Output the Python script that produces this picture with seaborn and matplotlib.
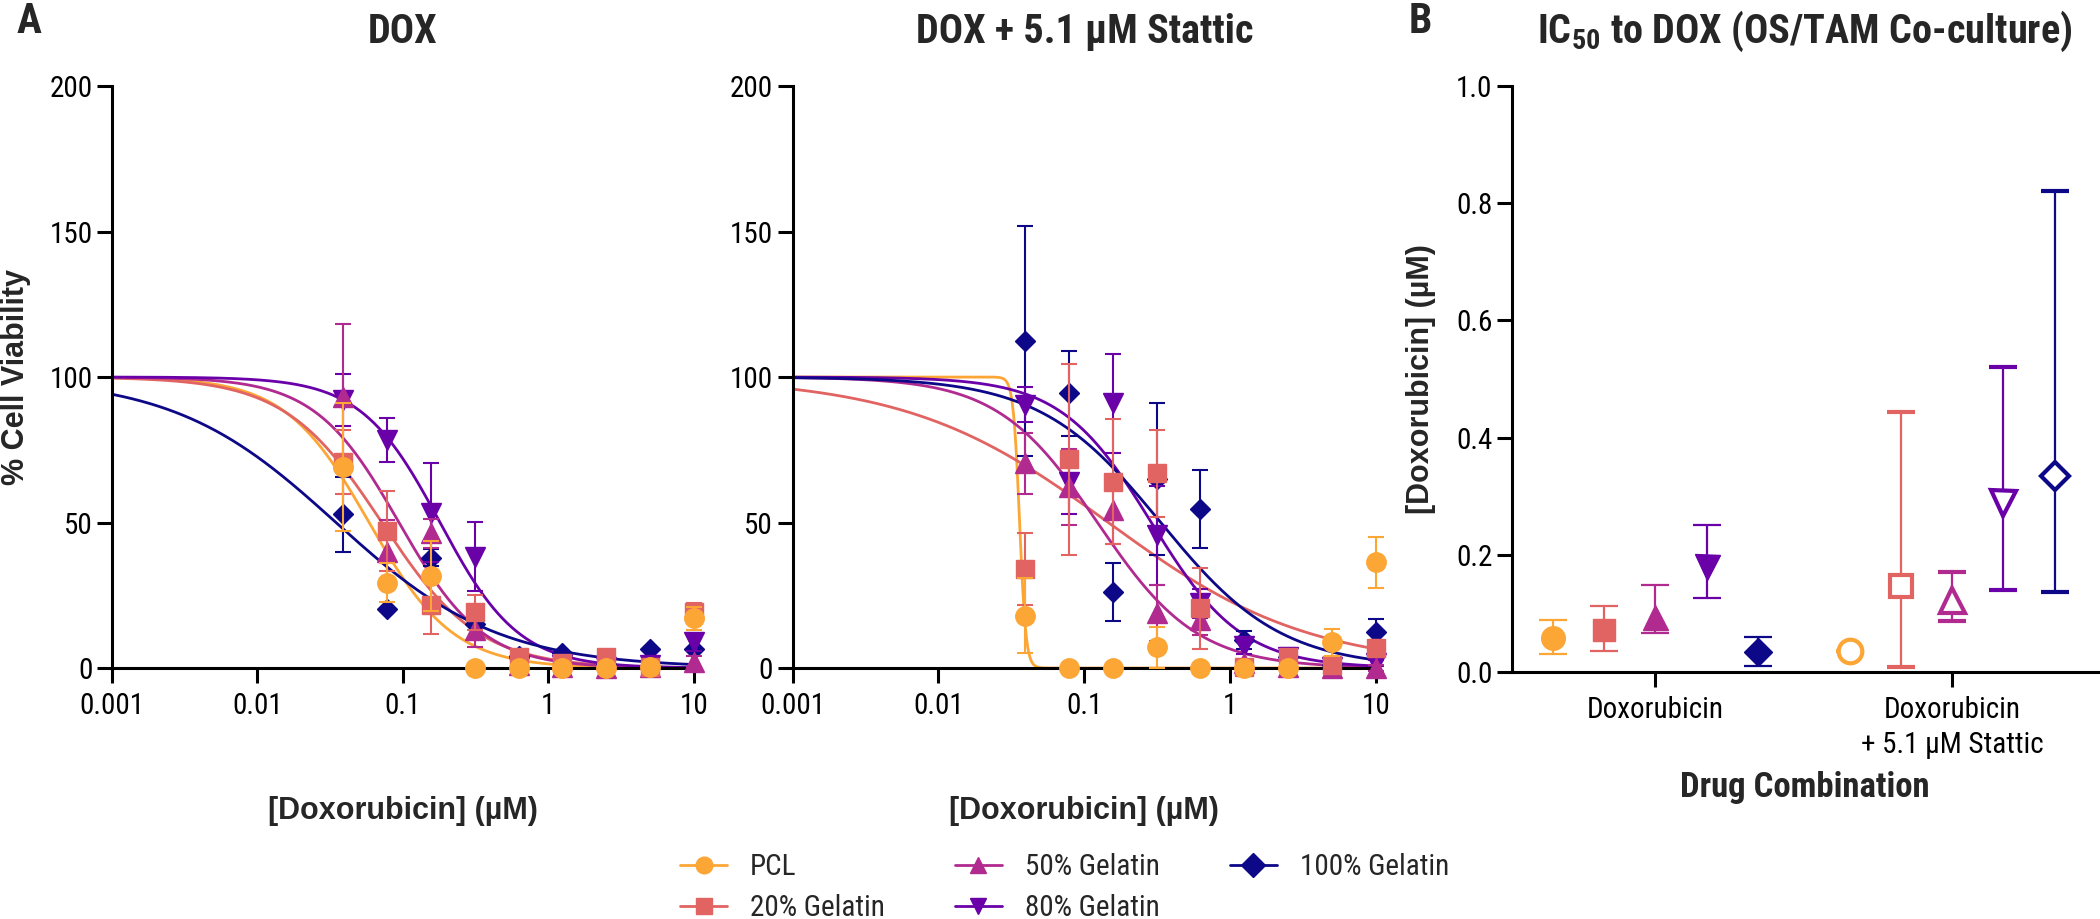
import numpy as np
import pandas as pd
import matplotlib
matplotlib.use('Agg')
import matplotlib.pyplot as plt
from matplotlib.lines import Line2D
import seaborn as sns

# ---- data ----
doses = [0.039, 0.078, 0.156, 0.3125, 0.625, 1.25, 2.5, 5, 10]
groups = ['PCL', '20% Gelatin', '50% Gelatin', '80% Gelatin', '100% Gelatin']
colors = ['#FCA636', '#E16462', '#B12A90', '#6A00A8', '#0D0887']
markers = ['o', 's', '^', 'v', 'D']

# DOX alone: mean % viability and error per group
dox_pcl = [69.2, 29.3, 31.6, 0, 0, 0, 0, 0.5, 17.1]
dox_pcl_err = [22, 6.7, 12, 0, 0, 0, 0, 1, 4]
dox_g20 = [70.9, 47.1, 21.6, 19.1, 3.9, 1.7, 3.9, 0.5, 19.4]
dox_g20_err = [11, 13.7, 10, 6, 1.5, 1, 1, 1, 3]
dox_g50 = [93.2, 40.0, 46.3, 13.1, 0.9, 0.5, 0, 0.5, 2.2]
dox_g50_err = [25, 11, 5, 6, 1, 1, 1, 1, 2]
dox_g80 = [92.0, 78.4, 53.4, 38.3, 0.5, 1, 0.5, 1, 8.8]
dox_g80_err = [9, 7.5, 17, 12, 1, 2, 1, 2, 3]
dox_g100 = [52.8, 20.3, 37.9, 15.1, 4, 5.0, 1.5, 6.5, 6.5]
dox_g100_err = [13, 0, 3, 0, 0, 0, 0, 0, 0]

# DOX + Stattic
sta_pcl = [18.0, 0, 0, 7.1, 0, 0, 0, 8.8, 36.3]
sta_pcl_err = [13, 0, 0, 7, 0, 0, 0, 4.5, 8.8]
sta_g20 = [34.0, 71.7, 64.0, 66.9, 20.5, 0.5, 3.7, 0.9, 6.8]
sta_g20_err = [12.5, 32.7, 21.5, 15, 14, 1, 2, 1, 3]
sta_g50 = [70.3, 62.1, 54.3, 18.8, 16.5, 1.7, 0.5, 0, 0]
sta_g50_err = [10.5, 13, 11.7, 9.6, 5, 1, 1, 1, 1]
sta_g80 = [90.4, 64.0, 91.0, 45.7, 22.2, 7.7, 3.7, 0.5, 1.7]
sta_g80_err = [6, 11, 17, 17, 5, 3, 2, 1, 1]
sta_g100 = [112.5, 94.4, 26.2, 65.0, 54.6, 9.6, 3.9, 1, 12.3]
sta_g100_err = [39.5, 14.6, 10, 26, 13.5, 3, 3, 1, 4.5]

# IC50 (uM) with CI, panel B
ic50_dox = [0.0586, 0.0717, 0.094, 0.18, 0.0347]
ic50_dox_low = [0.0307, 0.0364, 0.0665, 0.127, 0.0102]
ic50_dox_high = [0.0887, 0.113, 0.148, 0.25, 0.0597]
ic50_sta = [0.036, 0.146, 0.123, 0.288, 0.334]
ic50_sta_low = [0.036, 0.008, 0.087, 0.14, 0.136]
ic50_sta_high = [0.036, 0.444, 0.171, 0.52, 0.82]

# hill slopes of the fitted curves
hill_dox = [1.5, 1.3, 1.5, 1.6, 0.78]
hill_sta = [20, 0.63, 1.27, 1.4, 1.05]

combos = ['Doxorubicin', 'Doxorubicin\n+ 5.1 µM Stattic']

dox_means = [dox_pcl, dox_g20, dox_g50, dox_g80, dox_g100]
dox_errs = [dox_pcl_err, dox_g20_err, dox_g50_err, dox_g80_err, dox_g100_err]
sta_means = [sta_pcl, sta_g20, sta_g50, sta_g80, sta_g100]
sta_errs = [sta_pcl_err, sta_g20_err, sta_g50_err, sta_g80_err, sta_g100_err]

# ---- style ----
sns.set_theme(style='ticks')
cond = ['Roboto Condensed', 'Roboto', 'DejaVu Sans']
plt.rcParams['font.family'] = cond
plt.rcParams['mathtext.fontset'] = 'custom'
plt.rcParams['mathtext.rm'] = 'Roboto Condensed'
plt.rcParams['mathtext.bf'] = 'Roboto Condensed:bold'
arial = ['Liberation Sans', 'DejaVu Sans']

fig = plt.figure(figsize=(21, 9.19), dpi=100)
ax1 = fig.add_axes([0.0533, 0.2731, 0.2771, 0.6333])
ax2 = fig.add_axes([0.3774, 0.2731, 0.2779, 0.6333])
ax3 = fig.add_axes([0.7200, 0.2688, 0.2790, 0.6376])


def style_axis(ax):
    sns.despine(ax=ax)
    for s in ['left', 'bottom']:
        ax.spines[s].set_linewidth(2.2)
        ax.spines[s].set_color('black')
    ax.tick_params(axis='both', which='major', length=11, width=2.2,
                   labelsize=21, colors='black', direction='out')
    ax.tick_params(axis='x', pad=6)
    ax.tick_params(axis='y', pad=3)
    ax.tick_params(which='minor', length=0)


def draw_dose_panel(ax, means, errs, ic50, hill, title):
    xs = np.logspace(-3, 1, 500)
    rows = []
    for g, ic, h in zip(groups, ic50, hill):
        yv = 100 / (1 + 10 ** ((np.log10(xs) - np.log10(ic)) * h))
        rows.append(pd.DataFrame({'dose': xs, 'viability': yv, 'group': g}))
    curves = pd.concat(rows)
    sns.lineplot(data=curves, x='dose', y='viability', hue='group',
                 hue_order=groups, palette=colors, linewidth=2.0,
                 legend=False, ax=ax, zorder=2)
    sizes = [14, 13, 15, 15, 10.5]
    for i in range(len(groups)):
        ax.errorbar(doses, means[i], yerr=errs[i], fmt=markers[i],
                    color=colors[i], ms=sizes[i], capsize=6, elinewidth=1.5,
                    capthick=1.5, clip_on=False, zorder=10 - i)
    ax.set_xscale('log')
    ax.set_xlim(0.001, 10)
    ax.set_ylim(0, 200)
    ax.set_xticks([0.001, 0.01, 0.1, 1, 10])
    ax.set_xticklabels(['0.001', '0.01', '0.1', '1', '10'])
    ax.set_yticks([0, 50, 100, 150, 200])
    style_axis(ax)
    ax.set_xlabel('[Doxorubicin] (µM)', fontsize=22, fontweight='bold',
                  family=arial)
    ax.xaxis.set_label_coords(0.5, -0.246)
    ax.xaxis.label.set_va('center')
    ax.set_ylabel('')
    ax.set_title(title, fontsize=29, fontweight='bold', y=1.079,
                 verticalalignment='center')


draw_dose_panel(ax1, dox_means, dox_errs, ic50_dox, hill_dox, 'DOX')
draw_dose_panel(ax2, sta_means, sta_errs, ic50_sta, hill_sta,
                'DOX + 5.1 µM Stattic')
ax1.set_ylabel('% Cell Viability', fontsize=22, fontweight='bold',
               family=arial)
ax1.yaxis.set_label_coords(-0.165, 0.5)
ax1.yaxis.label.set_va('center')

# ---- panel B ----
step = 0.172
offs = (np.arange(len(groups)) - 2) * step
bsizes = [17, 16, 18, 18, 14]
bmarkers = ['o', 's', '^', 'v', 'D']
for i in range(len(groups)):
    m = ic50_dox[i]
    ax3.errorbar(0 + offs[i], m,
                 yerr=[[m - ic50_dox_low[i]], [ic50_dox_high[i] - m]],
                 fmt=bmarkers[i], color=colors[i], ms=bsizes[i],
                 capsize=10, elinewidth=1.6, capthick=1.6, zorder=5)
    m = ic50_sta[i]
    ax3.errorbar(1 + offs[i], m,
                 yerr=[[m - ic50_sta_low[i]], [ic50_sta_high[i] - m]],
                 fmt=bmarkers[i], color=colors[i], ms=bsizes[i],
                 mfc='white', mew=3, capsize=10, elinewidth=1.6,
                 capthick=1.6, zorder=5)
ax3.set_xlim(-0.483, 1.49)
ax3.set_ylim(0, 1.0)
ax3.set_xticks([0, 1])
ax3.set_xticklabels(combos, linespacing=1.35)
ax3.set_yticks([0, 0.2, 0.4, 0.6, 0.8, 1.0])
ax3.set_yticklabels(['0.0', '0.2', '0.4', '0.6', '0.8', '1.0'])
style_axis(ax3)
ax3.spines['bottom'].set_bounds(-0.483, 1.49)
ax3.set_xlabel('Drug Combination', fontsize=25, fontweight='bold')
ax3.xaxis.set_label_coords(0.5, -0.197)
ax3.xaxis.label.set_va('center')
ax3.set_ylabel('[Doxorubicin] (µM)', fontsize=22, fontweight='bold',
               family=arial)
ax3.yaxis.set_label_coords(-0.156, 0.5)
ax3.yaxis.label.set_va('center')
ax3.set_title(r'IC$_{\mathbf{50}}$ to DOX (OS/TAM Co-culture)', fontsize=29,
              fontweight='bold', y=1.079, verticalalignment='center')

# panel letters
fig.text(0.008, 0.977, 'A', fontsize=30, fontweight='bold', va='center')
fig.text(0.671, 0.977, 'B', fontsize=30, fontweight='bold', va='center')

# legend
handles = [Line2D([0], [0], color=c, marker=m, lw=2, ms=12)
           for c, m in zip(colors, markers)]
fig.legend(handles, groups, ncol=3, loc='center',
           bbox_to_anchor=(0.507, 0.034), frameon=False, fontsize=21,
           handlelength=1.6, columnspacing=2.4, labelspacing=0.45,
           handletextpad=0.8)

fig.savefig('out.png', dpi=100)
